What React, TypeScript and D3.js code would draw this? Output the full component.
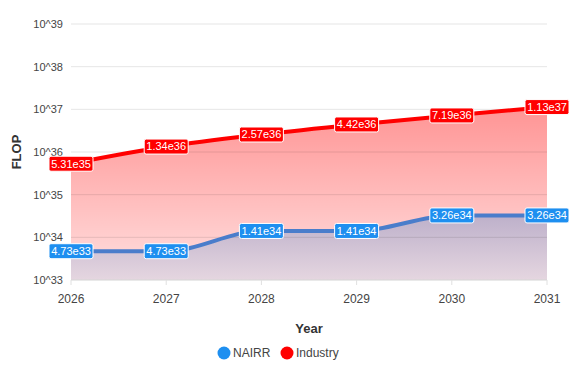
import * as d3 from 'd3';
import React from 'react';

const years = [2026, 2027, 2028, 2029, 2030, 2031];
const nairr = [4.73e33, 4.73e33, 1.41e34, 1.41e34, 3.26e34, 3.26e34];
const industry = [5.31e35, 1.34e36, 2.57e36, 4.42e36, 7.19e36, 1.13e37];
const yTicks = [33, 34, 35, 36, 37, 38, 39];

const width = 572;
const height = 367;
const margin = { top: 24, right: 25, bottom: 87, left: 71 };

const fmt = (v: number) => {
  const [m, e] = v.toExponential(2).split('e');
  return `${m}e${e.replace('+', '')}`;
};

function Label({ x, y, text, fill }: { x: number; y: number; text: string; fill: string }) {
  const w = text.length * 6 + 2;
  return (
    <g transform={`translate(${x},${y})`}>
      <rect x={-w / 2} y={-7.5} width={w} height={15} rx={2} fill={fill} stroke="#fff" strokeWidth={1} />
      <text textAnchor="middle" dy="0.35em" fill="#fff" fontSize={11} fontFamily="Arial, Liberation Sans, sans-serif">
        {text}
      </text>
    </g>
  );
}

export default function App() {
  const x = d3
    .scaleLinear()
    .domain([2026, 2031])
    .range([margin.left, width - margin.right]);
  const y = d3
    .scaleLog()
    .domain([1e33, 1e39])
    .range([height - margin.bottom, margin.top]);

  const bottom = height - margin.bottom;
  const line = d3
    .line<number>()
    .x((_, i) => x(years[i]))
    .y(d => y(d))
    .curve(d3.curveMonotoneX);
  const area = d3
    .area<number>()
    .x((_, i) => x(years[i]))
    .y0(bottom)
    .y1(d => y(d))
    .curve(d3.curveMonotoneX);

  const font = 'Arial, Liberation Sans, sans-serif';

  return (
    <svg width={width} height={height} style={{ position: 'absolute', left: 0, top: 0 }}>
      <defs>
        <linearGradient id="redFill" gradientUnits="userSpaceOnUse" x1={0} x2={0} y1={y(1.13e37)} y2={bottom}>
          <stop offset="0" stopColor="#ff0000" stopOpacity={0.42} />
          <stop offset="1" stopColor="#ff0000" stopOpacity={0.12} />
        </linearGradient>
        <linearGradient id="blueFill" gradientUnits="userSpaceOnUse" x1={0} x2={0} y1={y(3.26e34)} y2={bottom}>
          <stop offset="0" stopColor="#bdb0ca" />
          <stop offset="1" stopColor="#e5d6e0" />
        </linearGradient>
      </defs>

      <path d={area(industry) ?? ''} fill="url(#redFill)" />
      <path d={area(nairr) ?? ''} fill="url(#blueFill)" />

      {yTicks.map(t => (
        <g key={t} transform={`translate(0,${y(10 ** t)})`}>
          <line x1={margin.left} x2={width - margin.right} stroke="#000" strokeOpacity={0.1} />
          <text x={margin.left - 8} dy="0.35em" textAnchor="end" fontSize={11} fill="#444" fontFamily={font}>
            {`10^${t}`}
          </text>
        </g>
      ))}

      <line x1={margin.left} x2={width - margin.right} y1={bottom} y2={bottom} stroke="#e0e0e0" />
      {years.map(yr => (
        <g key={yr} transform={`translate(${x(yr)},${bottom})`}>
          <line y1={0} y2={5} stroke="#e0e0e0" />
          <text y={19} dy="0.35em" textAnchor="middle" fontSize={12} fill="#444" fontFamily={font}>
            {yr}
          </text>
        </g>
      ))}

      <path d={line(industry) ?? ''} fill="none" stroke="#ff0000" strokeWidth={4} />
      <path d={line(nairr) ?? ''} fill="none" stroke="#4a7dcb" strokeWidth={4} />

      {industry.map((v, i) => (
        <Label key={`i${i}`} x={x(years[i])} y={y(v)} text={fmt(v)} fill="#ff0000" />
      ))}
      {nairr.map((v, i) => (
        <Label key={`n${i}`} x={x(years[i])} y={y(v)} text={fmt(v)} fill="#1e8ff0" />
      ))}

      <text
        transform={`translate(16,${(margin.top + bottom) / 2}) rotate(-90)`}
        textAnchor="middle"
        dy="0.35em"
        fontSize={13}
        fontWeight="bold"
        fill="#333"
        fontFamily={font}
      >
        FLOP
      </text>
      <text x={(margin.left + width - margin.right) / 2} y={328} dy="0.35em" textAnchor="middle" fontSize={13} fontWeight="bold" fill="#333" fontFamily={font}>
        Year
      </text>

      <g transform="translate(224,353)">
        <circle cx={0} cy={0} r={6.5} fill="#1e8ff0" />
        <text x={9} dy="0.35em" fontSize={12} fill="#444" fontFamily={font}>NAIRR</text>
        <circle cx={63} cy={0} r={6.5} fill="#ff0000" />
        <text x={72} dy="0.35em" fontSize={12} fill="#444" fontFamily={font}>Industry</text>
      </g>
    </svg>
  );
}
